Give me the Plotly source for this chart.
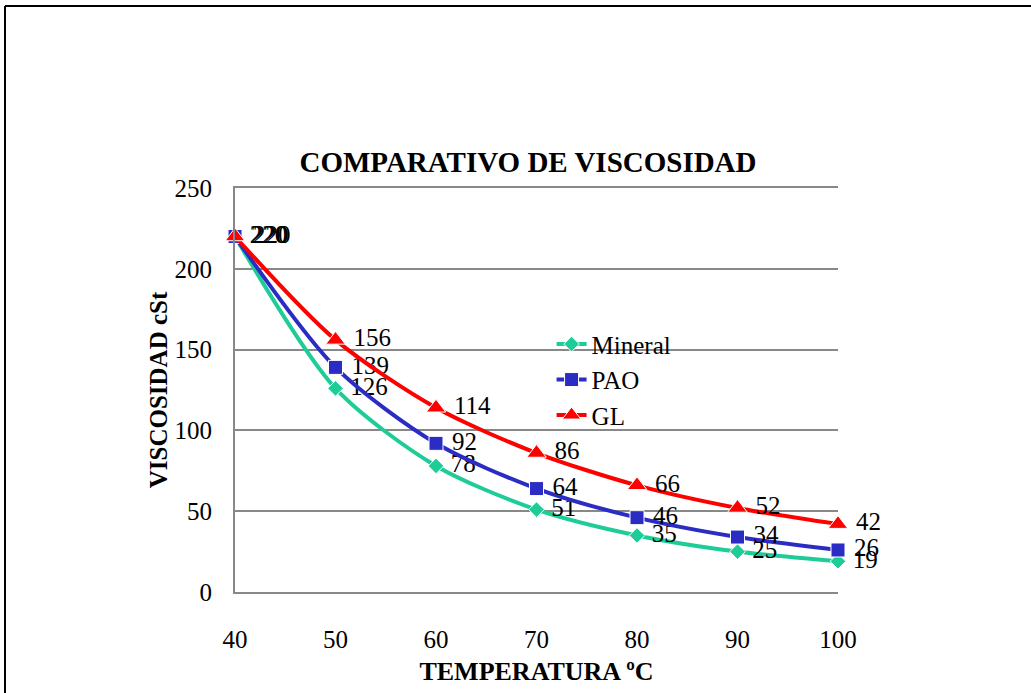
import plotly.graph_objects as go

temps = [40, 50, 60, 70, 80, 90, 100]
mineral = [220, 126, 78, 51, 35, 25, 19]
pao = [220, 139, 92, 64, 46, 34, 26]
gl = [220, 156, 114, 86, 66, 52, 42]

FONT = "Liberation Serif"

fig = go.Figure()
series = [
    ("Mineral", mineral, "#1dcc96", "diamond", 12),
    ("PAO", pao, "#2a2cc4", "square", 14),
    ("GL", gl, "#ff0000", "triangle-up", 17),
]
for name, vals, col, sym, ms in series:
    fig.add_trace(go.Scatter(
        x=temps, y=vals, name=name, mode="lines+markers+text",
        line=dict(color=col, width=4, shape="spline", smoothing=0.8),
        marker=dict(symbol=sym, size=ms, color=col, line=dict(color="white", width=1)),
        text=[" " + str(v) for v in vals], textposition="middle right",
        textfont=dict(family=FONT, size=25, color="black"),
        cliponaxis=False,
    ))

fig.update_layout(
    width=1031, height=693,
    margin=dict(l=235, r=193, t=188, b=101),
    paper_bgcolor="white", plot_bgcolor="white",
    title=dict(text="<b>COMPARATIVO DE VISCOSIDAD</b>", x=528 / 1031, xanchor="center",
               y=1 - 162 / 693, yanchor="middle",
               font=dict(family=FONT, size=29, color="black")),
    font=dict(family=FONT, color="black"),
    showlegend=True,
    legend=dict(x=0.525, y=0.67, xanchor="left", yanchor="top",
                bgcolor="rgba(0,0,0,0)", font=dict(family=FONT, size=25, color="black"),
                itemwidth=30, tracegroupgap=0),
    xaxis=dict(range=[40, 100], dtick=10, tick0=40, showgrid=False,
               showline=True, linecolor="#888888", linewidth=2, mirror=True,
               ticks="", ticklabelstandoff=24,
               tickfont=dict(family=FONT, size=25, color="black"),
               title=dict(text="<b>TEMPERATURA ºC</b>", standoff=10,
                          font=dict(family=FONT, size=26, color="black")),
               zeroline=False),
    yaxis=dict(range=[0, 250], dtick=50, showgrid=True, gridcolor="#888888", gridwidth=2,
               showline=True, linecolor="#888888", linewidth=2,
               ticks="", ticklabelstandoff=16,
               tickfont=dict(family=FONT, size=25, color="black"),
               title=dict(text="<b>VISCOSIDAD cSt</b>", standoff=0,
                          font=dict(family=FONT, size=25, color="black")),
               zeroline=False),
)

bx0 = (5 - 235) / 603
by1 = (592 - 6) / 404
fig.add_shape(type="line", xref="paper", yref="paper",
              x0=bx0, x1=bx0, y0=-0.6, y1=by1,
              line=dict(color="black", width=2), layer="above")
fig.add_shape(type="line", xref="paper", yref="paper",
              x0=bx0, x1=1.8, y0=by1, y1=by1,
              line=dict(color="black", width=2), layer="above")

fig.write_html("out.html", config={"displayModeBar": False},
               post_script="document.body.style.margin='0px';document.body.style.overflow='hidden';")
